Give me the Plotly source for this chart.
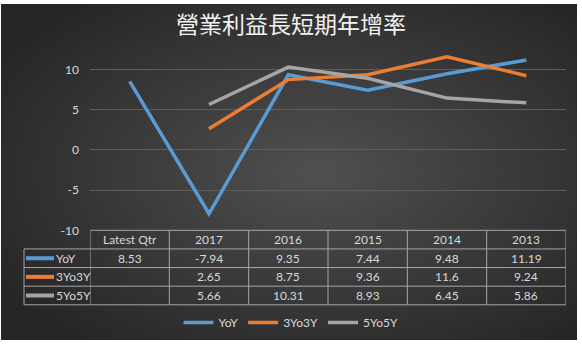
import base64
import plotly.graph_objects as go

# ---------------- data ----------------
title_text = "營業利益長短期年增率"
categories = ["Latest Qtr", "2017", "2016", "2015", "2014", "2013"]
series_names = ["YoY", "3Yo3Y", "5Yo5Y"]
yoy = [8.53, -7.94, 9.35, 7.44, 9.48, 11.19]
y3o3 = [None, 2.65, 8.75, 9.36, 11.6, 9.24]
y5o5 = [None, 5.66, 10.31, 8.93, 6.45, 5.86]
y_tickvals = [-10, -5, 0, 5, 10]
y_ticktext = ["-10", "-5", "0", "5", "10"]

series_values = [yoy, y3o3, y5o5]

# ---------------- style ----------------
W, H = 582, 351
colors = ["#5b9bd5", "#ed7d31", "#a5a5a5"]
text_color = "#d9d9d9"
grid_color = "#5e5e5e"
border_color = "#a6a6a6"
font_family = "Lato, 'Open Sans', sans-serif"

def py(px):  # pixel from top -> paper y
    return 1 - px / H

def px_(p):  # pixel from left -> paper x
    return p / W

plot_left, plot_right = 90, 566
table_left = 24
row_edges = [235, 254, 273, 292, 311]  # header top, then row boundaries

fig = go.Figure()
for name, vals, c in zip(series_names, series_values, colors):
    fig.add_trace(go.Scatter(
        x=categories, y=vals, name=name, mode="lines",
        line=dict(color=c, width=3.5), connectgaps=False,
        hoverinfo="skip",
    ))

shapes = []
annotations = []
n = len(categories)

# table: horizontal lines
for k, e in enumerate(row_edges):
    shapes.append(dict(type="line", xref="x", yref="paper", x0=-0.5, x1=n - 0.5,
                       y0=py(e), y1=py(e), line=dict(color=border_color, width=1)))
    if k > 0:
        shapes.append(dict(type="line", xref="paper", yref="paper", x0=px_(table_left), x1=px_(plot_left),
                           y0=py(e), y1=py(e), line=dict(color=border_color, width=1)))
# vertical lines
for i in range(n + 1):
    shapes.append(dict(type="line", xref="x", yref="paper", x0=i - 0.5, x1=i - 0.5,
                       y0=py(row_edges[0]), y1=py(row_edges[-1]),
                       line=dict(color=border_color, width=1)))
shapes.append(dict(type="line", xref="paper", yref="paper", x0=px_(table_left), x1=px_(table_left),
                   y0=py(row_edges[1]), y1=py(row_edges[-1]),
                   line=dict(color=border_color, width=1)))

# header texts
hc = (row_edges[0] + row_edges[1]) / 2
for i, c in enumerate(categories):
    annotations.append(dict(x=i, xref="x", y=py(hc), yref="paper", text=c, showarrow=False,
                            xanchor="center", yanchor="middle",
                            font=dict(size=12, color=text_color, family=font_family)))
# rows
for r, (name, vals, col) in enumerate(zip(series_names, series_values, colors)):
    rc = (row_edges[r + 1] + row_edges[r + 2]) / 2
    shapes.append(dict(type="line", xref="paper", yref="paper", x0=px_(26), x1=px_(54),
                       y0=py(rc), y1=py(rc), line=dict(color=col, width=4)))
    annotations.append(dict(x=px_(54), xref="paper", y=py(rc), yref="paper", text=name,
                            showarrow=False, xanchor="left", yanchor="middle",
                            font=dict(size=12, color=text_color, family=font_family)))
    for i, v in enumerate(vals):
        if v is None:
            continue
        annotations.append(dict(x=i, xref="x", y=py(rc), yref="paper", text=f"{v:g}",
                                showarrow=False, xanchor="center", yanchor="middle",
                                font=dict(size=12, color=text_color, family=font_family)))

# background gradient
svg = ('<svg xmlns="http://www.w3.org/2000/svg" width="576" height="343">'
       '<defs><radialGradient id="g" cx="55%" cy="50%" r="65%">'
       '<stop offset="0%" stop-color="#505050"/>'
       '<stop offset="100%" stop-color="#262626"/>'
       '</radialGradient></defs>'
       '<rect width="576" height="343" fill="url(#g)"/></svg>')
src = "data:image/svg+xml;base64," + base64.b64encode(svg.encode()).decode()

fig.update_layout(
    width=W, height=H,
    margin=dict(l=0, r=0, t=0, b=0),
    paper_bgcolor="white",
    plot_bgcolor="rgba(0,0,0,0)",
    images=[dict(source=src, xref="paper", yref="paper", x=px_(1), y=py(4),
                 sizex=576 / W, sizey=343 / H, sizing="stretch", layer="below",
                 xanchor="left", yanchor="top")],
    title=dict(text=title_text, x=0.5, xanchor="center", y=py(25), yanchor="middle",
               font=dict(size=23, color="#f2f2f2", family="'Noto Sans CJK TC', sans-serif")),
    xaxis=dict(domain=[px_(plot_left), px_(plot_right)], range=[-0.5, n - 0.5],
               showticklabels=False, showgrid=False, zeroline=False, showline=False,
               fixedrange=True),
    yaxis=dict(domain=[py(row_edges[0]), py(46.4)], range=[-10, 13],
               tickvals=y_tickvals, ticktext=y_ticktext,
               showgrid=True, gridcolor=grid_color, gridwidth=1, zeroline=False,
               showline=False, ticks="", ticklabelstandoff=10,
               tickfont=dict(size=12, color=text_color, family=font_family)),
    showlegend=True,
    legend=dict(orientation="h", x=0.5, xanchor="center", y=py(329), yanchor="middle",
                font=dict(size=12, color=text_color, family=font_family),
                bgcolor="rgba(0,0,0,0)", itemwidth=30),
    shapes=shapes,
    annotations=annotations,
)

fig.write_html("out.html")
